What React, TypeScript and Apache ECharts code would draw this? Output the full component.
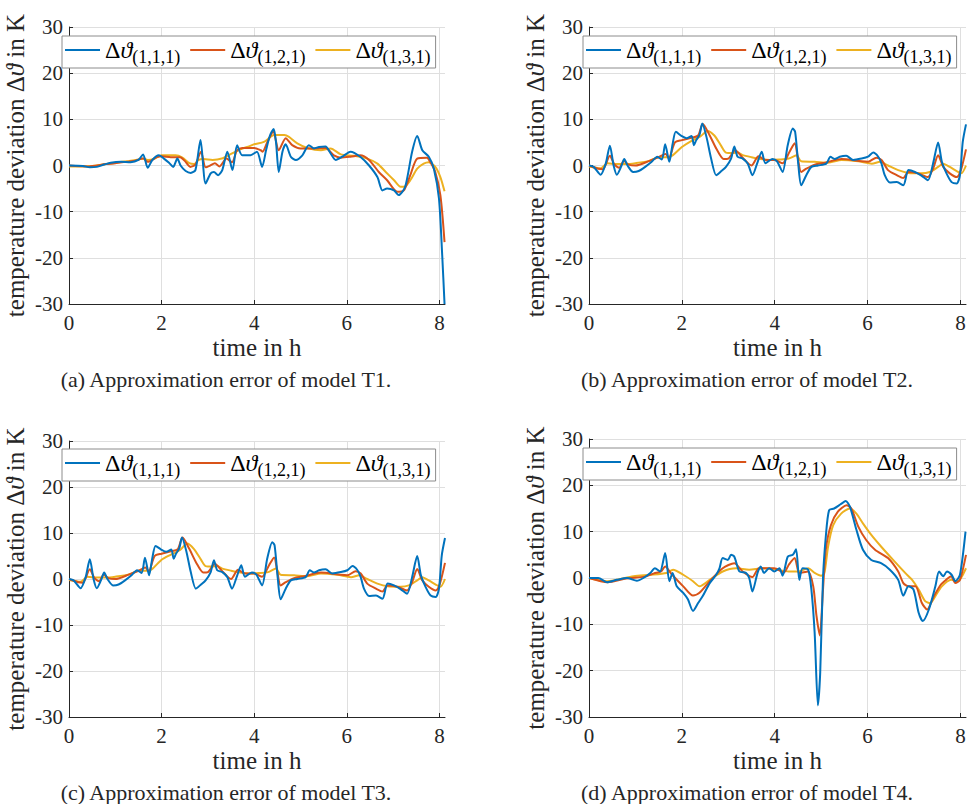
import React, { useEffect, useRef } from 'react';
import * as echarts from 'echarts';

const FONT = "'Liberation Serif', 'DejaVu Serif', serif";
const TEXT_COLOR = '#262626';
const COLORS = ['#0072BD', '#D95319', '#EDB120'];
const SERIES_NAMES = ['Δϑ(1,1,1)', 'Δϑ(1,2,1)', 'Δϑ(1,3,1)'];
const SUBSCRIPTS = ['(1,1,1)', '(1,2,1)', '(1,3,1)'];
const CAPTIONS = [
  '(a) Approximation error of model T1.',
  '(b) Approximation error of model T2.',
  '(c) Approximation error of model T3.',
  '(d) Approximation error of model T4.',
];
const X_NAME = 'time in h';
const Y_NAME = '{n|temperature deviation Δ}{i|ϑ}{n| in K}';
const X_MIN = 0, X_MAX = 8.12, X_STEP = 2;
const Y_MIN = -30, Y_MAX = 30, Y_STEP = 10;

// ---- data: [time in h, deviation in K] ----
const T1_111 = [[0,0],[0.3,-0.1],[0.45,-0.4],[0.6,-0.3],[0.76,0.2],[0.9,0.6],[1.12,0.8],[1.33,0.7],[1.5,1.2],[1.6,2.4],[1.7,-0.5],[1.8,1.2],[1.94,2.2],[2.05,1.5],[2.16,0.6],[2.25,-0.3],[2.34,1.5],[2.41,0],[2.52,-1.2],[2.63,-1.6],[2.73,-1.0],[2.84,5.5],[2.95,-3.9],[3.06,-1.7],[3.13,-1.4],[3.22,-2.1],[3.31,-1.0],[3.42,3.0],[3.53,-1.0],[3.63,4.4],[3.74,2.2],[3.92,2.2],[4.06,3.0],[4.17,-0.3],[4.26,3.5],[4.34,6.5],[4.42,7.9],[4.47,5.1],[4.53,-1.4],[4.61,3.0],[4.68,4.6],[4.79,1.9],[4.9,1.2],[5.04,2.2],[5.18,4.4],[5.29,3.7],[5.4,4.0],[5.54,4.1],[5.65,2.6],[5.76,1.2],[5.9,1.9],[6.08,3.0],[6.29,1.9],[6.48,0],[6.66,-2.5],[6.77,-5.4],[6.87,-5.0],[7.02,-5.4],[7.12,-6.4],[7.26,-4.6],[7.41,3.0],[7.52,6.4],[7.63,3.3],[7.77,1.9],[7.88,-0.7],[7.99,-7.2],[8.06,-19.5],[8.11,-30]];
const T1_121 = [[0,0],[0.4,-0.2],[0.8,0.3],[1.0,0.5],[1.4,1.0],[1.6,1.5],[1.7,0.8],[1.9,1.8],[2.0,2.0],[2.2,1.8],[2.4,1.8],[2.5,1.0],[2.62,-0.3],[2.73,0.2],[2.85,3.0],[2.95,-0.4],[3.05,0],[3.15,0.5],[3.25,-0.2],[3.4,1.5],[3.52,0.7],[3.63,3.3],[3.75,3.8],[4.0,3.8],[4.14,3.3],[4.18,3.0],[4.28,5.0],[4.41,7.3],[4.53,3.3],[4.68,5.9],[4.82,4.4],[5.0,3.7],[5.22,3.7],[5.54,3.8],[5.72,2.2],[5.87,1.7],[6.08,1.9],[6.29,2.2],[6.48,1.2],[6.69,-1.4],[6.87,-3.2],[7.09,-5.7],[7.23,-5.4],[7.37,-2.1],[7.52,1.5],[7.73,1.7],[7.8,0.8],[7.91,-1.4],[8.02,-6.4],[8.11,-16.6]];
const T1_131 = [[0,-0.2],[0.5,-0.1],[1.0,0.6],[1.3,1.0],[1.5,1.3],[1.6,1.5],[1.7,1.2],[1.85,1.5],[2.0,2.2],[2.3,2.2],[2.45,1.7],[2.6,0.5],[2.7,0.3],[2.8,1.2],[2.9,1.4],[3.1,1.2],[3.3,1.5],[3.5,2.5],[3.7,3.5],[3.9,4.2],[4.0,4.6],[4.21,5.1],[4.43,6.6],[4.65,6.6],[4.75,6.2],[4.93,4.8],[5.15,3.8],[5.44,3.3],[5.65,3.7],[5.87,2.4],[6.15,2.1],[6.44,1.5],[6.66,0.4],[6.84,-1.4],[7.02,-3.2],[7.16,-4.6],[7.26,-4.5],[7.37,-3.2],[7.52,-0.7],[7.66,0.4],[7.77,0.7],[7.91,-0.3],[8.02,-2.5],[8.11,-5.6]];

const T2_111 = [[0,0],[0.1,-0.3],[0.25,-2.0],[0.36,0.4],[0.45,4.3],[0.53,0],[0.6,-2.0],[0.69,-0.3],[0.76,1.4],[0.83,0],[0.95,-1.4],[1.07,-1.2],[1.21,-0.3],[1.35,0.8],[1.47,1.9],[1.57,1.3],[1.64,4.6],[1.73,0.8],[1.8,4.6],[1.87,7.3],[1.99,6.4],[2.1,5.9],[2.21,6.4],[2.26,4.4],[2.31,5.5],[2.38,6.6],[2.44,9.1],[2.53,6.2],[2.63,1.5],[2.74,-2.1],[2.85,-1.2],[2.95,-0.3],[3.06,1.5],[3.13,4.1],[3.2,1.9],[3.31,1.5],[3.42,0.4],[3.52,-2.1],[3.63,0.7],[3.72,3.0],[3.8,0.5],[3.95,1.4],[4.05,0.9],[4.17,-1.4],[4.28,4.4],[4.39,8.0],[4.44,7.3],[4.51,0],[4.57,-4.3],[4.68,-2.1],[4.79,-0.3],[4.93,0],[5.11,0.4],[5.2,1.9],[5.29,1.4],[5.4,1.9],[5.54,2.1],[5.69,1.2],[5.87,1.5],[6.01,1.9],[6.12,2.8],[6.23,1.9],[6.3,0.4],[6.37,-2.1],[6.48,-3.7],[6.63,-3.6],[6.77,-4.3],[6.88,-1.0],[7.02,-1.4],[7.16,-2.2],[7.3,-3.2],[7.41,0.4],[7.52,5.0],[7.6,0.8],[7.7,-1.7],[7.81,-3.6],[7.92,-3.9],[7.99,-2.1],[8.05,5.1],[8.12,8.9]];
const T2_121 = [[0,0],[0.2,-0.7],[0.3,-0.8],[0.45,2.1],[0.55,0.2],[0.65,-0.5],[0.75,1.0],[0.85,0.2],[1.0,0],[1.3,1.0],[1.5,1.8],[1.65,2.5],[1.72,1.6],[1.85,5.0],[2.0,5.5],[2.2,6.0],[2.35,6.5],[2.45,9.0],[2.6,6.5],[2.75,3.5],[2.9,1.4],[3.0,1.5],[3.15,3.3],[3.3,1.8],[3.5,0],[3.65,2.0],[3.8,1.2],[4.0,1.2],[4.17,0.5],[4.32,3.0],[4.43,4.8],[4.5,1.5],[4.57,-1.4],[4.68,-0.7],[4.86,0.2],[5.08,0.6],[5.44,1.4],[5.87,0.9],[6.01,0.8],[6.19,1.7],[6.3,1.2],[6.44,-1.0],[6.63,-2.1],[6.77,-2.7],[6.88,-1.4],[7.09,-1.7],[7.3,-2.5],[7.41,-0.7],[7.52,2.2],[7.63,-0.3],[7.77,-1.7],[7.92,-2.5],[8.01,-1.0],[8.12,3.5]];
const T2_131 = [[0,-0.2],[0.25,-0.6],[0.4,0.5],[0.6,0.3],[0.8,0.3],[1.0,0.5],[1.3,1.0],[1.5,1.8],[1.7,1.8],[1.8,2.2],[2.0,4.0],[2.2,5.3],[2.4,6.3],[2.55,7.5],[2.7,6.5],[2.85,4.2],[2.95,2.8],[3.1,2.7],[3.2,2.8],[3.3,2.3],[3.5,1.8],[3.7,1.4],[3.9,1.2],[4.1,1.3],[4.3,1.5],[4.47,2.2],[4.57,0.9],[4.86,0.8],[5.15,0.6],[5.44,1.2],[5.8,0.9],[6.09,0.4],[6.27,0.8],[6.44,0],[6.66,-1.0],[6.88,-1.6],[7.16,-1.7],[7.34,-1.4],[7.52,-0.3],[7.63,0.4],[7.77,-0.3],[7.92,-1.2],[8.02,-1.7],[8.12,0]];

const T3_111 = [[0,0],[0.1,-0.3],[0.25,-2.0],[0.36,0.4],[0.45,4.3],[0.53,0],[0.6,-2.0],[0.69,-0.3],[0.76,1.4],[0.83,0],[0.95,-1.4],[1.07,-1.2],[1.21,-0.3],[1.35,0.8],[1.47,1.9],[1.57,1.3],[1.64,4.6],[1.73,0.8],[1.8,4.6],[1.87,7.2],[1.99,6.4],[2.1,5.9],[2.21,6.4],[2.26,4.4],[2.31,5.5],[2.38,6.6],[2.44,9.0],[2.53,6.2],[2.63,1.5],[2.74,-2.1],[2.85,-1.2],[2.95,-0.3],[3.06,1.5],[3.13,4.1],[3.2,1.9],[3.31,1.5],[3.42,0.4],[3.52,-2.1],[3.63,0.7],[3.72,3.0],[3.8,0.5],[3.95,1.4],[4.05,0.9],[4.17,-1.4],[4.28,4.4],[4.39,8.0],[4.44,7.3],[4.51,0],[4.57,-4.4],[4.68,-2.1],[4.79,-0.3],[4.93,0],[5.11,0.4],[5.2,1.9],[5.29,1.4],[5.4,1.9],[5.54,2.1],[5.69,1.2],[5.87,1.5],[6.01,1.9],[6.12,2.8],[6.23,1.9],[6.3,0.4],[6.37,-2.1],[6.48,-3.7],[6.63,-3.6],[6.77,-4.3],[6.88,-1.0],[7.02,-1.4],[7.16,-2.2],[7.3,-3.2],[7.41,0.4],[7.52,5.0],[7.6,0.8],[7.7,-1.7],[7.81,-3.6],[7.92,-3.9],[7.99,-2.1],[8.05,5.1],[8.12,8.9]];
const T3_121 = [[0,0],[0.2,-0.7],[0.3,-0.8],[0.45,2.1],[0.55,0.2],[0.65,-0.5],[0.75,1.0],[0.85,0.2],[1.0,0],[1.3,1.0],[1.5,1.8],[1.65,2.5],[1.72,1.6],[1.85,5.0],[2.0,5.5],[2.2,6.0],[2.35,6.5],[2.45,9.0],[2.6,6.5],[2.75,3.5],[2.9,1.4],[3.0,1.5],[3.15,3.3],[3.3,1.8],[3.5,0],[3.65,2.0],[3.8,1.2],[4.0,1.2],[4.17,0.5],[4.32,3.0],[4.43,4.7],[4.5,1.5],[4.57,-1.4],[4.68,-0.7],[4.86,0.2],[5.08,0.6],[5.44,1.4],[5.87,0.9],[6.01,0.8],[6.19,1.7],[6.3,1.2],[6.44,-1.0],[6.63,-2.1],[6.77,-2.7],[6.88,-1.4],[7.09,-1.7],[7.3,-2.5],[7.41,-0.7],[7.52,2.2],[7.63,-0.3],[7.77,-1.7],[7.92,-2.5],[8.01,-1.0],[8.12,3.5]];
const T3_131 = [[0,-0.2],[0.25,-0.6],[0.4,0.5],[0.6,0.3],[0.8,0.3],[1.0,0.5],[1.3,1.0],[1.5,1.8],[1.7,1.8],[1.8,2.2],[2.0,4.2],[2.2,5.3],[2.4,6.3],[2.55,7.7],[2.7,6.5],[2.85,4.2],[2.95,2.8],[3.1,2.7],[3.2,2.8],[3.3,2.3],[3.5,1.8],[3.7,1.4],[3.9,1.2],[4.1,1.3],[4.3,1.5],[4.47,2.3],[4.57,0.9],[4.86,0.8],[5.15,0.6],[5.44,1.2],[5.8,0.9],[6.09,0.4],[6.27,0.8],[6.44,0],[6.66,-1.0],[6.88,-1.6],[7.16,-1.7],[7.34,-1.4],[7.52,-0.3],[7.63,0.4],[7.77,-0.3],[7.92,-1.2],[8.02,-1.7],[8.12,0]];

const T4_111 = [[0,0],[0.2,0],[0.39,-0.9],[0.6,-0.4],[0.82,0],[1.03,-0.6],[1.17,0],[1.32,1.1],[1.42,2.1],[1.53,1.4],[1.64,5.4],[1.73,-0.7],[1.8,1.1],[1.89,-1.8],[2.03,-3.2],[2.13,-4.6],[2.24,-7.1],[2.35,-5.4],[2.45,-3.9],[2.6,-1.1],[2.74,0.7],[2.81,2.1],[2.88,4.3],[2.99,3.9],[3.06,5.0],[3.13,4.6],[3.24,1.4],[3.38,1.1],[3.45,0],[3.52,-2.9],[3.63,1.1],[3.7,2.5],[3.77,1.1],[3.88,2.1],[3.99,1.4],[4.1,2.1],[4.17,0.5],[4.28,4.6],[4.39,5.0],[4.46,6.2],[4.53,-0.4],[4.6,2.1],[4.72,1.8],[4.79,-2.5],[4.86,-11.8],[4.93,-27.5],[4.98,-20.4],[5.04,0],[5.1,8.9],[5.17,14.6],[5.28,15.0],[5.43,16.0],[5.53,16.6],[5.62,15.4],[5.76,10.4],[5.9,6.1],[6.08,3.9],[6.29,3.2],[6.48,1.8],[6.66,-0.4],[6.77,-3.8],[6.88,-1.8],[6.99,-2.5],[7.1,-7.5],[7.19,-9.3],[7.32,-6.8],[7.46,-1.8],[7.54,1.4],[7.63,0.4],[7.71,1.4],[7.81,0.7],[7.89,-0.7],[7.99,0.7],[8.11,10.0]];
const T4_121 = [[0,0],[0.4,-0.9],[0.8,-0.1],[1.2,0.3],[1.4,1.0],[1.55,1.4],[1.64,2.5],[1.78,0.8],[2.03,-1.8],[2.24,-3.8],[2.38,-3.2],[2.6,-0.7],[2.88,2.1],[3.13,3.2],[3.31,1.4],[3.52,0.2],[3.66,2.1],[3.99,2.1],[4.2,1.2],[4.3,2.8],[4.43,4.3],[4.53,1.1],[4.72,1.4],[4.83,-1.8],[4.9,-8.2],[4.97,-12.4],[5.04,-2.5],[5.1,6.1],[5.21,11.4],[5.36,14.3],[5.55,15.7],[5.65,15.0],[5.8,11.1],[5.97,8.2],[6.16,6.1],[6.44,4.3],[6.66,1.4],[6.77,-1.1],[6.88,-1.8],[7.03,-1.8],[7.17,-5.4],[7.28,-6.8],[7.43,-3.9],[7.58,-1.4],[7.69,-0.4],[7.8,0.4],[7.89,-1.1],[7.99,-0.4],[8.12,5.0]];
const T4_131 = [[0,0],[0.39,-0.7],[0.96,0.4],[1.32,0.7],[1.67,1.1],[1.81,1.8],[2.03,0.7],[2.24,-0.7],[2.38,-1.8],[2.6,-0.4],[2.88,1.4],[3.17,2.1],[3.45,1.8],[3.74,2.1],[3.99,1.9],[4.3,1.4],[4.5,1.4],[4.72,2.1],[4.86,1.1],[5.0,0.5],[5.07,1.1],[5.15,6.8],[5.26,11.4],[5.43,13.9],[5.62,15.0],[5.76,13.9],[5.9,11.8],[6.08,9.3],[6.29,6.8],[6.55,3.9],[6.81,1.1],[6.96,-0.4],[7.1,-2.5],[7.24,-5.0],[7.35,-5.4],[7.46,-3.9],[7.6,-1.8],[7.8,-0.4],[7.94,-0.7],[8.12,2.1]];

const PANEL_DATA = [
  [T1_111, T1_121, T1_131],
  [T2_111, T2_121, T2_131],
  [T3_111, T3_121, T3_131],
  [T4_111, T4_121, T4_131],
];

// ---- layout ----
const GRIDS = [
  { left: 69, top: 27, width: 376, height: 277 },
  { left: 589, top: 27, width: 377, height: 277 },
  { left: 69, top: 441, width: 376, height: 276 },
  { left: 589, top: 439, width: 377, height: 278 },
];
const LEGEND_POS = [[62, 36], [583, 36], [62, 449], [583, 448]];
const CAPTION_POS = [[226, 379], [747, 379], [226, 792], [747, 792]];

function buildOption() {
  const grid = GRIDS.map((g) => ({ ...g, containLabel: false }));
  const xAxis = GRIDS.map((_, i) => ({
    type: 'value',
    gridIndex: i,
    min: X_MIN,
    max: X_MAX,
    interval: X_STEP,
    name: X_NAME,
    nameLocation: 'middle',
    nameGap: 31,
    nameTextStyle: { fontFamily: FONT, fontSize: 25, color: TEXT_COLOR },
    axisLine: { show: true, onZero: false, lineStyle: { color: TEXT_COLOR, width: 1 } },
    axisTick: { show: true, inside: true, length: 4, lineStyle: { color: TEXT_COLOR } },
    axisLabel: {
      fontFamily: FONT, fontSize: 21, color: TEXT_COLOR, margin: 8,
      showMaxLabel: false,
      formatter: (v: number) => (Math.abs(v % X_STEP) < 1e-9 ? String(v) : ''),
    },
    splitLine: { show: true, showMaxLine: false, lineStyle: { color: '#dfdfdf', width: 1 } },
  }));
  const yAxis = GRIDS.map((_, i) => ({
    type: 'value',
    gridIndex: i,
    min: Y_MIN,
    max: Y_MAX,
    interval: Y_STEP,
    name: Y_NAME,
    nameLocation: 'middle',
    nameGap: 41,
    nameRotate: 90,
    nameTextStyle: {
      fontFamily: FONT, fontSize: 25, color: TEXT_COLOR,
      rich: {
        n: { fontFamily: FONT, fontSize: 25, color: TEXT_COLOR },
        i: { fontFamily: FONT, fontSize: 25, fontStyle: 'italic', color: TEXT_COLOR },
      },
    },
    axisLine: { show: true, onZero: false, lineStyle: { color: TEXT_COLOR, width: 1 } },
    axisTick: { show: true, inside: true, length: 4, lineStyle: { color: TEXT_COLOR } },
    axisLabel: { fontFamily: FONT, fontSize: 21, color: TEXT_COLOR, margin: 6 },
    splitLine: { show: true, lineStyle: { color: '#dfdfdf', width: 1 } },
  }));
  const series: any[] = [];
  PANEL_DATA.forEach((panel, p) => {
    panel.forEach((data, k) => {
      series.push({
        type: 'line',
        name: SERIES_NAMES[k],
        xAxisIndex: p,
        yAxisIndex: p,
        data,
        symbol: 'none',
        smooth: 0.25,
        clip: true,
        lineStyle: { color: COLORS[k], width: 2 },
        itemStyle: { color: COLORS[k] },
        z: 3 - k,
      });
    });
  });
  const legend = LEGEND_POS.map(([l, t]) => ({
    left: l,
    top: t,
    orient: 'horizontal',
    data: SERIES_NAMES.map((n, k) => ({ name: n, icon: 'rect', itemStyle: { color: COLORS[k] } })),
    selectedMode: false,
    itemWidth: 35,
    itemHeight: 2,
    itemGap: 10,
    padding: [2, 5, 2, 3],
    backgroundColor: '#ffffff',
    borderColor: '#8c8c8c',
    borderWidth: 1,
    textStyle: {
      fontFamily: FONT,
      color: '#000',
      rich: {
        d: { fontFamily: FONT, fontSize: 24, color: '#000' },
        t: { fontFamily: FONT, fontSize: 24, fontStyle: 'italic', color: '#000' },
        s: { fontFamily: FONT, fontSize: 18, color: '#000', padding: [14, 0, 0, 0] },
      },
    },
    formatter: (name: string) => `{d|Δ}{t|ϑ}{s|${SUBSCRIPTS[SERIES_NAMES.indexOf(name)]}}`,
  }));
  const graphic = CAPTIONS.map((c, i) => ({
    type: 'text',
    x: CAPTION_POS[i][0],
    y: CAPTION_POS[i][1],
    style: {
      text: c,
      fill: TEXT_COLOR,
      font: `22px ${FONT}`,
      textAlign: 'center',
      textVerticalAlign: 'middle',
    },
  }));
  return { animation: false, backgroundColor: '#ffffff', grid, xAxis, yAxis, series, legend, graphic };
}

export default function App() {
  const ref = useRef<HTMLDivElement>(null);
  useEffect(() => {
    if (!ref.current) return;
    const chart = echarts.init(ref.current, undefined, { renderer: 'svg' });
    chart.setOption(buildOption() as any);
    return () => chart.dispose();
  }, []);
  return (
    <div
      ref={ref}
      style={{ position: 'absolute', left: 0, top: 0, width: 969, height: 804, background: '#fff' }}
    />
  );
}
